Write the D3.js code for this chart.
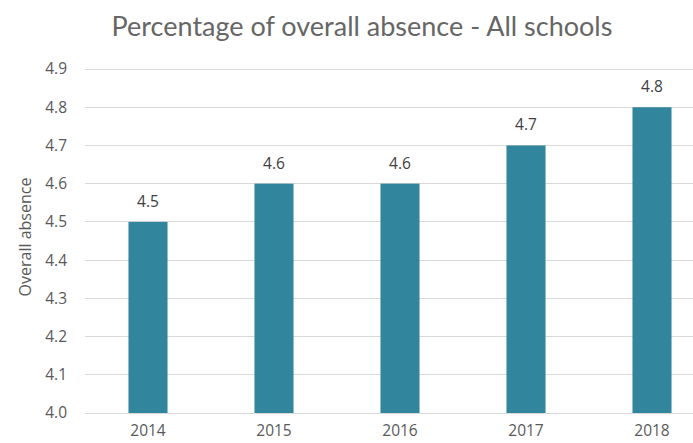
<!DOCTYPE html>
<meta charset="utf-8">
<style>
body { margin: 0; background: #fff; }
.grid line { stroke: #d9d9d9; stroke-width: 1px; shape-rendering: crispEdges; }
</style>
<body>
<div id="chart"></div>
<script src="https://cdn.jsdelivr.net/npm/d3@7"></script>
<script>
var years = ["2014", "2015", "2016", "2017", "2018"];
var absence = [4.5, 4.6, 4.6, 4.7, 4.8];
var yTicks = [4.0, 4.1, 4.2, 4.3, 4.4, 4.5, 4.6, 4.7, 4.8, 4.9];

var width = 693, height = 443;
var textFont = "'Open Sans', sans-serif";

var svg = d3.select("#chart").append("svg")
    .attr("width", width)
    .attr("height", height);

var x = d3.scaleBand().domain(years).range([85, 715]).paddingInner(0.69).paddingOuter(0.345);
var y = d3.scaleLinear().domain([4.0, 4.9]).range([413, 69]);

// gridlines
svg.append("g").attr("class", "grid")
  .selectAll("line")
  .data(yTicks)
  .enter().append("line")
    .attr("x1", 85).attr("x2", 715)
    .attr("y1", function(d) { return y(d); })
    .attr("y2", function(d) { return y(d); });

// y axis labels
var yAxis = d3.axisLeft(y).tickValues(yTicks).tickFormat(d3.format(".1f")).tickSize(0).tickPadding(0);
var gy = svg.append("g").attr("transform", "translate(67,0)").call(yAxis)
    .attr("font-family", textFont).attr("font-size", 15.5);
gy.select(".domain").remove();
gy.selectAll("text").attr("fill", "#595959");

// x axis labels
var xAxis = d3.axisBottom(x).tickSize(0).tickPadding(0);
var gx = svg.append("g").attr("transform", "translate(0,425)").call(xAxis)
    .attr("font-family", textFont).attr("font-size", 15.5);
gx.select(".domain").remove();
gx.selectAll("text").attr("fill", "#595959");

// bars
svg.selectAll(".bar")
  .data(absence)
  .enter().append("rect")
    .attr("class", "bar")
    .attr("x", function(d, i) { return x(years[i]); })
    .attr("width", x.bandwidth())
    .attr("y", function(d) { return y(d); })
    .attr("height", function(d) { return y(4.0) - y(d); })
    .attr("fill", "#31859c");

// value labels
svg.selectAll(".value")
  .data(absence)
  .enter().append("text")
    .attr("class", "value")
    .attr("x", function(d, i) { return x(years[i]) + x.bandwidth() / 2; })
    .attr("y", function(d) { return y(d) - 15; })
    .attr("text-anchor", "middle")
    .attr("font-family", textFont).attr("font-size", 15.5)
    .attr("fill", "#404040")
    .text(function(d) { return d3.format(".1f")(d); });

// title
svg.append("text")
    .attr("x", 362).attr("y", 36)
    .attr("text-anchor", "middle")
    .attr("font-family", "Lato, sans-serif").attr("font-size", 27)
    .attr("fill", "#666666")
    .text("Percentage of overall absence - All schools");

// y axis title
svg.append("text")
    .attr("transform", "translate(31,237) rotate(-90)")
    .attr("text-anchor", "middle")
    .attr("font-family", textFont).attr("font-size", 16)
    .attr("fill", "#595959")
    .text("Overall absence");
</script>
</body>
